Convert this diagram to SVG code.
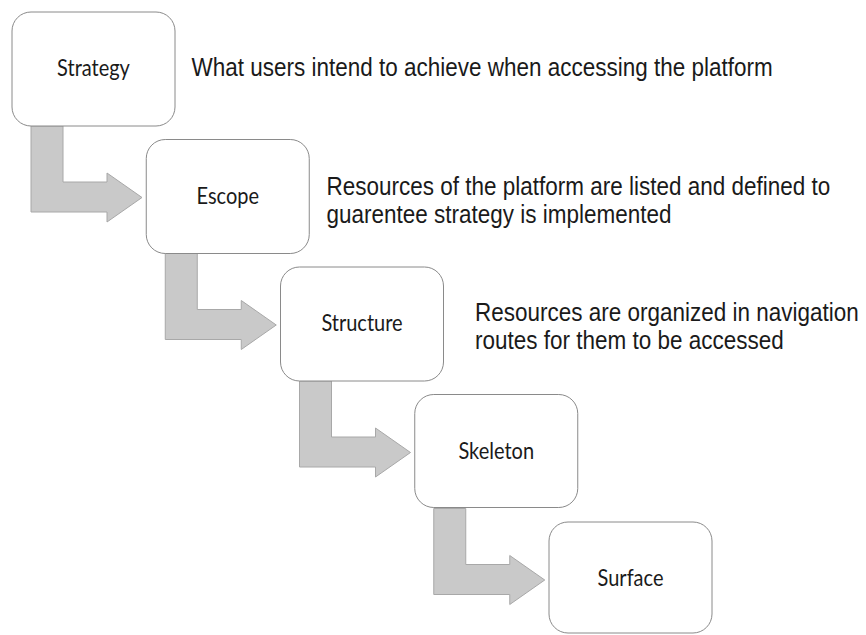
<svg xmlns="http://www.w3.org/2000/svg" width="866" height="635" viewBox="0 0 866 635">
  <style>
    .box { fill: #ffffff; stroke: #8a8a8a; stroke-width: 1; }
    .lbl { font-family: Lato, "Liberation Sans", sans-serif; font-size: 20px; fill: #1a1a1a; text-anchor: middle; }
    .desc { font-family: "Liberation Sans", Arial, sans-serif; font-size: 22.5px; fill: #1a1a1a; }
    .arr { fill: #c9c9c9; stroke: #a8a8a8; stroke-width: 1; stroke-linejoin: miter; }
  </style>
  <defs>
    <polygon id="bentArrow" class="arr" points="31,126 63,126 63,182 107,182 107,173 142,197.5 107,222 107,212 31,212"/>
  </defs>
  <rect width="866" height="635" fill="#ffffff"/>
  <g id="connectors">
    <use href="#bentArrow"/>
    <use href="#bentArrow" transform="translate(134.25,127.5)"/>
    <use href="#bentArrow" transform="translate(268.5,255)"/>
    <use href="#bentArrow" transform="translate(402.75,382.5)"/>
  </g>
  <g id="strategy">
    <rect class="box" x="12" y="12" width="163" height="114" rx="19"/>
    <text class="lbl" transform="translate(93.5,76) scale(1,1.12)">Strategy</text>
  </g>
  <g id="escope">
    <rect class="box" x="146.25" y="139.5" width="163" height="114" rx="19"/>
    <text class="lbl" transform="translate(227.75,203.5) scale(1,1.12)">Escope</text>
  </g>
  <g id="structure">
    <rect class="box" x="280.5" y="267" width="163" height="114" rx="19"/>
    <text class="lbl" transform="translate(362,331) scale(1,1.12)">Structure</text>
  </g>
  <g id="skeleton">
    <rect class="box" x="414.75" y="394.5" width="163" height="113" rx="19"/>
    <text class="lbl" transform="translate(496.25,458.5) scale(1,1.12)">Skeleton</text>
  </g>
  <g id="surface">
    <rect class="box" x="549" y="522" width="163" height="111" rx="19"/>
    <text class="lbl" transform="translate(630.5,586) scale(1,1.12)">Surface</text>
  </g>
  <g id="descriptions">
    <text class="desc" transform="translate(191.5,76) scale(1,1.12)">What users intend to achieve when accessing the platform</text>
    <text class="desc" transform="translate(326.5,195) scale(1,1.12)">Resources of the platform are listed and defined to</text>
    <text class="desc" transform="translate(326.5,223) scale(1,1.12)">guarentee strategy is implemented</text>
    <text class="desc" transform="translate(475,321) scale(1,1.12)">Resources are organized in navigation</text>
    <text class="desc" transform="translate(475,349) scale(1,1.12)">routes for them to be accessed</text>
  </g>
</svg>
